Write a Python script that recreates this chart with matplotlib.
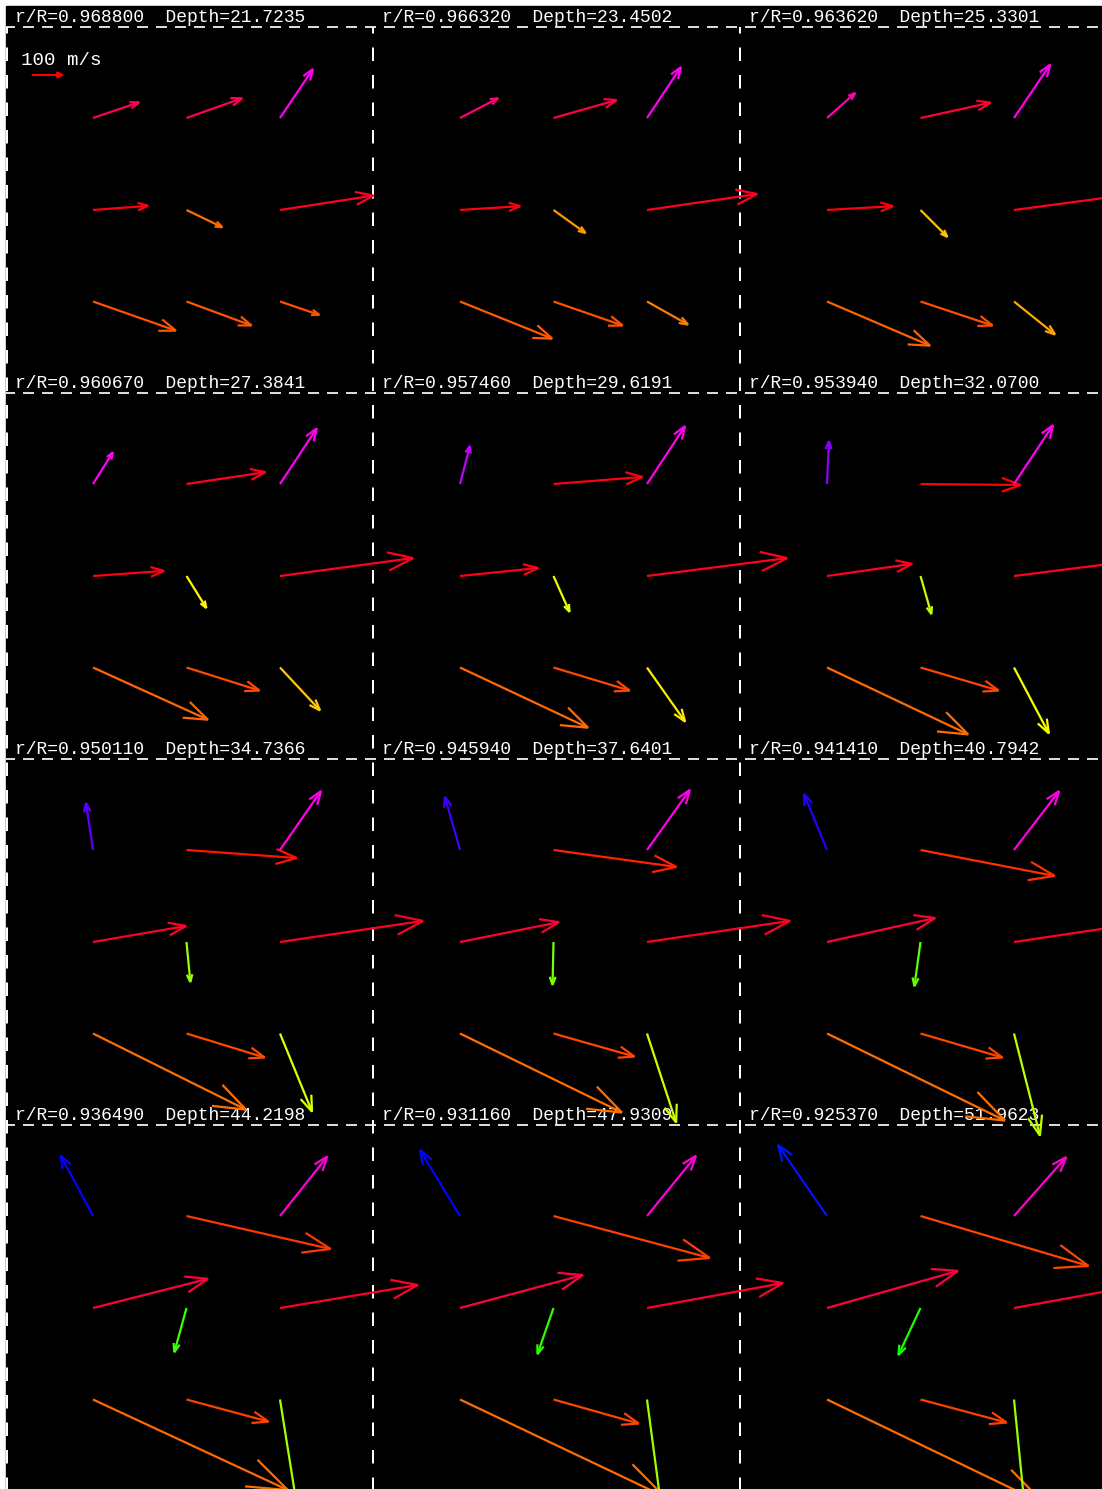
import numpy as np
import matplotlib
matplotlib.use("Agg")
import matplotlib.pyplot as plt
from matplotlib.colors import hsv_to_rgb
from matplotlib.patches import Rectangle

plt.rcParams["lines.scale_dashes"] = False

# ---- data -------------------------------------------------------------
radius = [0.968800, 0.966320, 0.963620,
          0.960670, 0.957460, 0.953940,
          0.950110, 0.945940, 0.941410,
          0.936490, 0.931160, 0.925370]
depth = [21.7235, 23.4502, 25.3301,
         27.3841, 29.6191, 32.0700,
         34.7366, 37.6401, 40.7942,
         44.2198, 47.9309, 51.9623]

# horizontal flow components (m/s), 3x3 grid per layer, row-major from the top
u_east = [
    [144, 174, 103, 172, 112, 292, 259, 203, 123],
    [119, 197, 106, 188, 100, 344, 288, 216, 128],
    [88, 219, 113, 206, 84, 397, 322, 225, 128],
    [62, 247, 115, 222, 62, 416, 359, 228, 125],
    [31, 278, 119, 244, 50, 438, 400, 238, 119],
    [6, 313, 122, 266, 34, 466, 441, 244, 109],
    [-22, 344, 128, 291, 12, 447, 478, 244, 100],
    [-47, 384, 134, 309, -3, 447, 506, 253, 91],
    [-72, 419, 141, 338, -19, 463, 556, 256, 81],
    [-101, 450, 148, 359, -38, 431, 609, 256, 58],
    [-125, 488, 153, 384, -50, 425, 638, 266, 52],
    [-153, 525, 163, 409, -69, 431, 681, 269, 41],
]
v_north = [
    [49, 62, 153, 13, -54, 45, -91, -75, -42],
    [62, 56, 159, 12, -72, 50, -116, -75, -72],
    [78, 48, 167, 12, -84, 53, -138, -75, -103],
    [99, 37, 174, 16, -100, 56, -163, -72, -134],
    [119, 22, 181, 25, -112, 56, -188, -72, -169],
    [134, -3, 184, 38, -119, 59, -209, -72, -206],
    [147, -25, 184, 50, -125, 66, -238, -75, -244],
    [166, -53, 188, 62, -134, 66, -247, -72, -278],
    [175, -81, 184, 75, -138, 69, -272, -75, -319],
    [189, -103, 186, 91, -138, 72, -283, -69, -365],
    [206, -131, 188, 103, -144, 78, -303, -75, -392],
    [222, -156, 184, 116, -147, 78, -328, -72, -412],
]
ref_speed = 100  # m/s

# ---- layout (figure pixels) ------------------------------------------
FIG_W, FIG_H = 1102, 1489
LEFT, TOP = 6, 27          # upper-left corner of the first panel
PANEL_W, PANEL_H = 367, 366
GRID_X = (87, 180.5, 274)  # arrow tails inside a panel
GRID_Y = (91, 183, 274.5)
SCALE = 0.32               # pixels per m/s
PX = 0.72                  # points per pixel at 100 dpi

fig = plt.figure(figsize=(FIG_W / 100, FIG_H / 100), dpi=100)
fig.patch.set_facecolor("white")
ax = fig.add_axes([0, 0, 1, 1])
ax.set_xlim(0, FIG_W)
ax.set_ylim(FIG_H, 0)
ax.axis("off")
ax.add_patch(Rectangle((5.5, 5.5), FIG_W, FIG_H, color="black", zorder=0))

# dashed panel borders
for r in range(4):
    y = TOP + r * PANEL_H
    ax.plot([LEFT, FIG_W], [y, y], color="0.85", lw=2 * PX,
            linestyle=(2 * PX, (11 * PX, 8 * PX)), zorder=1)
for c in range(3):
    x = LEFT + c * PANEL_W + (0.5 if c == 0 else 0)
    ax.plot([x, x], [TOP, FIG_H], color="white", lw=2 * PX,
            linestyle=(7 * PX, (13.5 * PX, 14 * PX)), zorder=1)

mono = "Liberation Mono"


def draw_arrow(x0, y0, u, v):
    dx, dy = u * SCALE, -v * SCALE
    length = np.hypot(dx, dy)
    x1, y1 = x0 + dx, y0 + dy
    hue = (-np.degrees(np.arctan2(v, u))) % 360 / 360
    col = hsv_to_rgb((hue, 1.0, 1.0))
    back = np.arctan2(-dy, -dx)
    hl = 0.2 * length
    bx = [x1 + hl * np.cos(back + s * np.radians(20)) for s in (1, -1)]
    by = [y1 + hl * np.sin(back + s * np.radians(20)) for s in (1, -1)]
    ax.plot([x0, x1], [y0, y1], color=col, lw=1.6, solid_capstyle="butt", zorder=3)
    ax.plot([bx[0], x1, bx[1]], [by[0], y1, by[1]], color=col, lw=1.6,
            solid_capstyle="butt", solid_joinstyle="miter", zorder=3)


for p in range(12):
    r, c = divmod(p, 3)
    px0 = LEFT + c * PANEL_W
    py0 = TOP + r * PANEL_H
    ax.text(px0 + 9, py0 - 5, f"r/R={radius[p]:.6f}  Depth={depth[p]:.4f}",
            color="white", fontsize=13, family=mono, va="baseline", ha="left",
            zorder=2)
    for k in range(9):
        gy, gx = divmod(k, 3)
        draw_arrow(px0 + GRID_X[gx], py0 + GRID_Y[gy], u_east[p][k], v_north[p][k])

# reference vector
ax.text(21, 65, f"{ref_speed} m/s", color="white", fontsize=13.8, family=mono,
        va="baseline", ha="left", zorder=2)
ax.annotate("", xy=(32.5 + ref_speed * SCALE, 75), xytext=(32.5, 75),
            arrowprops=dict(arrowstyle="-|>", color="red", lw=1.5,
                            mutation_scale=9, shrinkA=0, shrinkB=0), zorder=3)

fig.savefig("out.png", dpi=100, facecolor="white")
